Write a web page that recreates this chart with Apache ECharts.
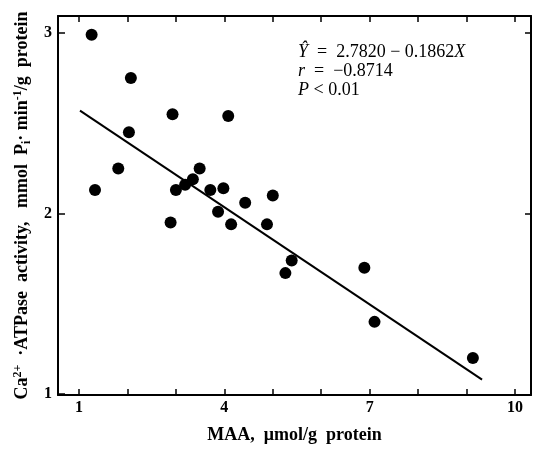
<!DOCTYPE html>
<html>
<head>
<meta charset="utf-8">
<script src="https://cdn.jsdelivr.net/npm/echarts@6/dist/echarts.min.js"></script>
<style>html,body{margin:0;padding:0;background:#fff;}#c{width:535px;height:449px;}</style>
</head>
<body>
<div id="c"></div>
<script>
// MAA (µmol/g protein) values of the points
var maaValues = [1.26, 2.07, 2.93, 4.08, 2.03, 1.81, 1.33, 3.49, 3.35, 3.19, 3.00, 3.71, 3.98, 4.43, 5.00, 3.87, 2.89, 4.14, 4.88, 5.39, 5.26, 6.89, 7.10, 9.13];
// Ca2+-ATPase activity values of the points
var atpaseValues = [2.99, 2.75, 2.55, 2.54, 2.45, 2.25, 2.13, 2.25, 2.19, 2.16, 2.13, 2.13, 2.14, 2.06, 2.10, 2.01, 1.95, 1.94, 1.94, 1.74, 1.67, 1.70, 1.40, 1.20];
// regression line end points
var fitX = [1.02, 9.32];
var fitY = [2.57, 1.08];
// tick values
var xTicks = [1, 2, 3, 4, 5, 6, 7, 8, 9, 10];
var xTickLabels = [1, 4, 7, 10];
var yTicks = [1, 2, 3];
var yTickLabels = [1, 2, 3];

var serif = '"Liberation Serif", "DejaVu Serif", serif';
var points = maaValues.map(function (x, i) { return [x, atpaseValues[i]]; });
var fitLine = fitX.map(function (x, i) { return [x, fitY[i]]; });

var axisLine = { show: true, lineStyle: { color: '#000', width: 2 } };
var chart = echarts.init(document.getElementById('c'));
chart.setOption({
  animation: false,
  backgroundColor: '#fff',
  grid: { left: 58, right: 4, top: 16, bottom: 53, containLabel: false },
  xAxis: [{
    type: 'value', min: 0.566, max: 10.33,
    axisLine: axisLine,
    axisTick: { show: true, inside: true, length: 6, customValues: xTicks, lineStyle: { color: '#000', width: 1.5 } },
    axisLabel: { customValues: xTickLabels, color: '#000', fontFamily: serif, fontSize: 16, fontWeight: 'bold', margin: 5 },
    splitLine: { show: false },
    name: 'MAA,  \u03bcmol/g  protein', nameLocation: 'middle', nameGap: 31,
    nameTextStyle: { color: '#000', fontFamily: serif, fontSize: 18, fontWeight: 'bold' }
  }, {
    type: 'value', position: 'top', min: 0.566, max: 10.33,
    axisLine: axisLine,
    axisTick: { show: true, inside: true, length: 6, customValues: xTicks, lineStyle: { color: '#000', width: 1.5 } },
    axisLabel: { show: false },
    splitLine: { show: false }
  }],
  yAxis: [{
    type: 'value', min: 0.995, max: 3.094,
    axisLine: axisLine,
    axisTick: { show: true, inside: true, length: 7, customValues: yTicks, lineStyle: { color: '#000', width: 1.5 } },
    axisLabel: { customValues: yTickLabels, color: '#000', fontFamily: serif, fontSize: 16, fontWeight: 'bold', margin: 6 },
    splitLine: { show: false },
    name: '{n|Ca}{sup|2+}{n|  \u00b7ATPase  activity,   mmol  P}{sub|i}{n|\u00b7 min}{sup|-1}{n|/g  protein}',
    nameLocation: 'middle', nameGap: 22, nameRotate: 90,
    nameTextStyle: {
      color: '#000', fontFamily: serif, fontSize: 18,
      rich: {
        n: { fontFamily: serif, fontSize: 18, fontWeight: 'bold', color: '#000' },
        sup: { fontFamily: serif, fontSize: 12, fontWeight: 'bold', color: '#000', verticalAlign: 'top', padding: [0, 0, 9, 0] },
        sub: { fontFamily: serif, fontSize: 12, fontWeight: 'bold', color: '#000', verticalAlign: 'bottom', padding: [7, 0, 0, 0] }
      }
    }
  }, {
    type: 'value', position: 'right', min: 0.995, max: 3.094,
    axisLine: axisLine,
    axisTick: { show: true, inside: true, length: 6, customValues: [2, 3], lineStyle: { color: '#000', width: 1.5 } },
    axisLabel: { show: false },
    splitLine: { show: false }
  }],
  graphic: [{
    type: 'text', left: 298, top: 43,
    style: {
      text: '{i|\u0176}  =  2.7820 \u2212 0.1862{i|X}\n{i|r}  =  \u22120.8714\n{i|P} < 0.01',
      fontFamily: serif, fontSize: 18, fill: '#000', lineHeight: 19,
      rich: {
        i: { fontFamily: serif, fontStyle: 'italic', fontSize: 18, fill: '#000' }
      }
    }
  }],
  series: [{
    type: 'scatter', data: points, symbol: 'circle', symbolSize: 12,
    itemStyle: { color: '#000', opacity: 1 }
  }, {
    type: 'line', data: fitLine, symbol: 'none',
    lineStyle: { color: '#000', width: 2 }
  }]
});
</script>
</body>
</html>
